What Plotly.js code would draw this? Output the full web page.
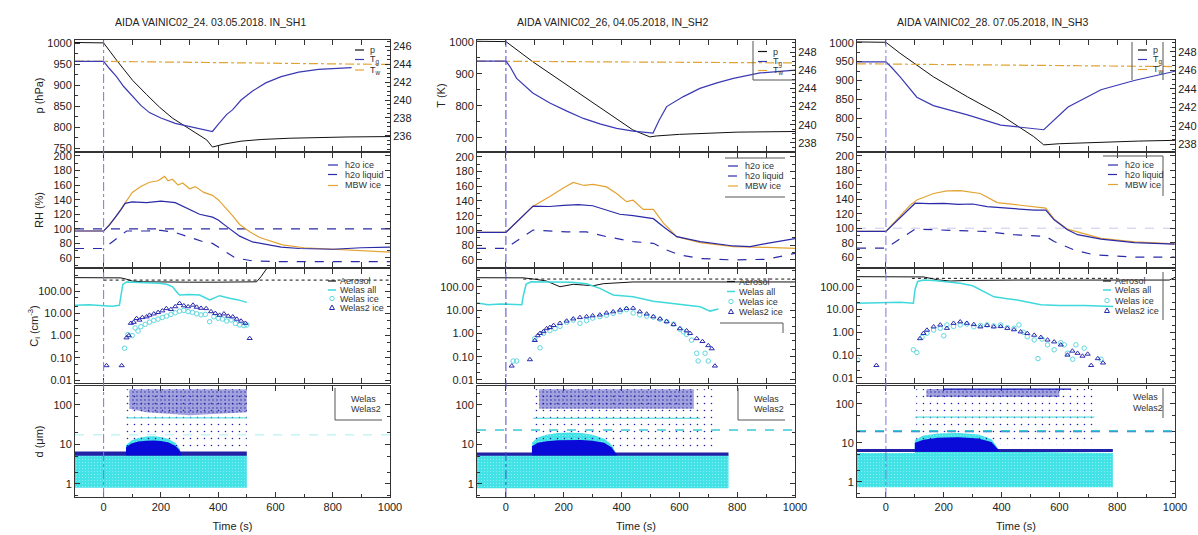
<!DOCTYPE html>
<html><head><meta charset="utf-8">
<script src="https://cdn.plot.ly/plotly-3.0.1.min.js"></script>
<style>html,body{margin:0;padding:0;background:#fff}#chart{width:1198px;height:535px}</style>
</head><body><div id="chart"></div>
<script>
// ---------------- DATA ----------------
var titles = ["AIDA VAINIC02_24. 03.05.2018. IN_SH1", "AIDA VAINIC02_26, 04.05.2018, IN_SH2", "AIDA VAINIC02_28. 07.05.2018, IN_SH3"];
var xTicks = [0, 200, 400, 600, 800, 1000];
var crTickVals = [0.01, 0.1, 1, 10, 100];
var crTickText = ["0.01", "0.10", "1.00", "10.00", "100.00"];
var dTickVals = [1, 10, 100];
var dTickText = ["1", "10", "100"];

// ---- Column 1 (SH1) ----
var c1PT = [-100, 0, 45, 101, 150, 195, 240, 290, 330, 360, 380, 420, 480, 550, 650, 750, 850, 1000];
var c1P  = [1002, 1001, 960, 912, 878, 848, 822, 800, 783, 770, 753, 760, 767, 771, 774, 776, 777, 778];
var c1TgT = [-100, 0, 20, 45, 70, 101, 130, 160, 200, 250, 290, 330, 360, 380, 400, 430, 450, 480, 520, 566, 620, 681, 750, 866];
var c1Tg  = [244.3, 244.3, 243.5, 242.6, 241.5, 240.4, 239.4, 238.6, 238.0, 237.4, 237.1, 236.8, 236.6, 236.5, 237.3, 238.4, 238.9, 240.0, 241.0, 241.9, 242.6, 243.1, 243.4, 243.6];
var c1TwT = [-100, 300, 600, 1000];
var c1Tw  = [244.33, 244.22, 244.1, 243.95];
var c1IceT = [-100, 0, 20, 40, 60, 75, 100, 150, 200, 250, 290, 335, 380, 400, 430, 475, 520, 570, 620, 684, 800, 900, 1000];
var c1Ice  = [97, 97, 105, 115, 126, 135, 137, 136, 138, 136, 128, 120, 116, 112, 103, 90, 82, 78, 75, 73, 72, 74, 75];
var c1LiqT = [-100, 0, 40, 80, 150, 200, 250, 300, 350, 380, 420, 460, 520, 600, 800, 1000];
var c1Liq  = [73, 73, 85, 97, 97, 98, 95, 88, 82, 80, 70, 60, 56, 55, 55, 55];
var c1MbwT = [-100, 0, 40, 75, 100, 130, 160, 190, 213, 225, 240, 260, 276, 300, 320, 350, 380, 400, 429, 450, 475, 510, 545, 590, 625, 700, 800, 900, 1000];
var c1Mbw  = [97, 97, 115, 135, 150, 158, 164, 166, 172, 166, 168, 160, 163, 155, 158, 150, 146, 140, 128, 118, 106, 96, 88, 82, 78, 74, 72, 70, 68];
var c1RefT = [-100, 1000];
var c1Ref  = [100, 100];
var c1AerT = [-100, 0, 60, 80, 100, 140, 200, 300, 400, 500, 534, 550, 569];
var c1Aer  = [400, 400, 390, 340, 280, 260, 250, 250, 250, 250, 260, 450, 1000];
var c1AerDotT = [0, 1000];
var c1AerDot  = [310, 310];
var c1AllT = [-100, -50, 0, 30, 55, 60, 67, 80, 120, 160, 195, 220, 241, 255, 265, 300, 335, 370, 405, 440, 470, 500];
var c1All  = [23, 24, 22, 21, 23, 60, 200, 255, 245, 235, 222, 200, 155, 90, 66, 70, 66, 40, 62, 47, 40, 31];
var c1CircT = [73, 85, 100, 110, 120, 130, 145, 160, 175, 190, 205, 220, 235, 250, 265, 280, 295, 310, 325, 340, 355, 370, 385, 400, 415, 430, 445, 460, 475, 490, 500];
var c1Circ  = [0.27, 1.1, 1.0, 2.2, 1.6, 2.5, 3.2, 4.0, 4.8, 5.5, 6.5, 7.5, 9.0, 10.5, 12.5, 13.5, 12.0, 11.0, 9.5, 8.5, 9.0, 4.2, 7.0, 6.0, 5.5, 4.5, 5.0, 3.5, 3.0, 2.8, 3.0];
var c1TriT = [10, 63, 80, 88, 95, 105, 115, 125, 135, 150, 160, 175, 190, 205, 219, 235, 250, 265, 280, 295, 312, 325, 340, 358, 375, 390, 405, 420, 435, 451, 465, 480, 495, 510];
var c1Tri  = [0.045, 0.045, 0.8, 1.0, 3.6, 4.0, 5.9, 5.0, 6.5, 7.0, 8.3, 9.5, 11.0, 13.0, 16.5, 15.0, 20.0, 28.0, 22.0, 20.0, 23.5, 19.0, 17.0, 16.5, 12.0, 10.0, 8.3, 9.5, 7.5, 7.0, 5.5, 4.5, 3.6, 0.75];
var c1CyanT = [-100, 78, 78, 95, 120, 150, 175, 200, 225, 250, 265, 272, 500, 500, -100];
var c1CyanD = [5.3, 5.3, 9.5, 12.5, 14.5, 15.8, 16.2, 15.5, 14, 11, 8, 5.3, 5.3, 0.8, 0.8];
var c1DomeT = [78, 78, 95, 120, 150, 175, 200, 225, 250, 265, 272];
var c1DomeD = [5.3, 8.5, 10.5, 11.8, 12.4, 12.6, 12.2, 11.3, 9.3, 7.2, 5.3];
var c1BandT = [-100, 500, 500, -100];
var c1BandD = [5.2, 5.2, 6.6, 6.6];
var c1CloudT = [78, 500, 500, 78];
var c1CloudD = [7, 7, 250, 250];
var c1DenseT = [90, 150, 300, 500, 500, 90];
var c1DenseD = [80, 65, 55, 65, 250, 250];
var c1LineT = [80, 500];
var c1LineD = [47, 47];
var c1DashT = [-100, 1000];
var c1DashD = [17.5, 17.5];

// ---- Column 2 (SH2) ----
var c2PT = [-100, 0, 93, 211, 325, 439, 498, 520, 600, 700, 800, 1000];
var c2P  = [1002, 1001, 938, 866, 797, 725, 703, 706, 711, 715, 718, 720];
var c2TgT = [-100, 0, 14, 37, 93, 152, 211, 268, 325, 383, 440, 509, 530, 556, 614, 671, 730, 787, 879, 1000];
var c2Tg  = [247.0, 247.0, 246.4, 245.1, 243.5, 242.4, 241.5, 240.7, 240.1, 239.6, 239.3, 239.1, 240.5, 242.0, 243.1, 244.0, 244.6, 245.1, 245.7, 246.0];
var c2TwT = [-100, 400, 1000];
var c2Tw  = [247.0, 246.9, 246.8];
var c2IceT = [-100, 0, 94, 150, 200, 250, 300, 313, 348, 394, 440, 510, 545, 591, 672, 787, 845, 903, 1000];
var c2Ice  = [97.5, 97.5, 133, 132.5, 134, 135, 133.5, 132, 128, 122, 120, 116, 105, 91.6, 85, 79, 78, 82.6, 89];
var c2LiqT = [-100, 0, 94, 210, 279, 348, 440, 510, 556, 602, 672, 787, 903, 1000];
var c2Liq  = [75.8, 75.8, 100.6, 98, 98, 91.6, 85, 82.6, 73.5, 66.7, 62, 60, 61, 69];
var c2MbwT = [-100, 0, 94, 152, 200, 233, 270, 302, 348, 383, 417, 440, 475, 510, 545, 591, 672, 787, 903, 1000];
var c2Mbw  = [97.5, 97.5, 133, 146, 158, 165, 161, 162.5, 159, 150, 139, 141, 128.6, 128.6, 110, 91.6, 83.5, 78, 77, 75.8];
var c2AerT = [-100, 0, 60, 100, 140, 187, 210, 233, 270, 302, 337, 400, 440, 1000];
var c2Aer  = [243, 243, 240, 210, 176, 100, 115, 127, 118, 110, 135, 150, 160, 160];
var c2AerDotT = [60, 1000];
var c2AerDot  = [213, 213];
var c2AllT = [-100, -60, -20, 20, 55, 60, 70, 87, 150, 226, 279, 325, 371, 440, 510, 591, 672, 706, 735];
var c2All  = [20, 17, 18, 17.6, 17, 40, 130, 164, 160, 155, 135, 85, 44, 37, 24, 17.6, 13.7, 9, 11];
var c2CircT = [25, 37, 100, 118, 130, 152, 170, 187, 210, 233, 256, 279, 300, 325, 348, 371, 395, 417, 440, 463, 487, 510, 533, 556, 580, 602, 614, 625, 642, 660, 665, 689, 700];
var c2Circ  = [0.065, 0.065, 0.6, 0.24, 1.0, 1.3, 1.6, 2.0, 3.0, 3.7, 2.7, 3.5, 4.5, 5.2, 6.0, 7.2, 8.5, 10.5, 7.5, 6.2, 5.5, 5.0, 4.0, 3.2, 2.5, 1.5, 1.17, 0.9, 0.51, 0.14, 0.065, 0.14, 0.065];
var c2TriT = [20, 83, 100, 110, 118, 130, 141, 152, 165, 187, 210, 233, 256, 279, 300, 325, 348, 371, 395, 417, 440, 463, 487, 510, 533, 556, 580, 602, 625, 637, 660, 680, 700, 712, 723];
var c2Tri  = [0.04, 0.075, 0.5, 0.8, 1.0, 1.2, 1.6, 1.8, 2.2, 2.7, 3.4, 4.2, 4.8, 5.2, 5.7, 6.2, 7.5, 8.5, 10, 11.8, 12, 8.5, 6.8, 5.2, 4.2, 3.2, 2.4, 1.6, 1.3, 1.0, 0.6, 0.45, 0.3, 0.22, 0.04];
var c2CyanT = [-100, 90, 90, 110, 140, 180, 220, 260, 300, 340, 365, 385, 770, 770, -100];
var c2CyanD = [5.3, 5.3, 11, 15, 17.5, 19.5, 20, 19.5, 17.5, 14, 10, 5.3, 5.3, 0.78, 0.78];
var c2DomeT = [90, 90, 110, 140, 180, 220, 260, 300, 340, 365, 385];
var c2DomeD = [5.3, 9, 11, 12, 12.8, 13, 13, 12.5, 11, 8.5, 5.3];
var c2BandT = [-100, 770, 770, -100];
var c2BandD = [5.2, 5.2, 6.3, 6.3];
var c2CloudT = [90, 720, 720, 90];
var c2CloudD = [7, 7, 250, 250];
var c2DenseT = [115, 650, 650, 115];
var c2DenseD = [80, 80, 250, 250];
var c2LineT = [94, 672];
var c2LineD = [46, 46];
var c2DashT = [-100, 1000];
var c2DashD = [23.4, 23.4];

// ---- Column 3 (SH3) ----
var c3PT = [-100, 0, 49, 164, 282, 397, 511, 546, 600, 700, 873, 1000];
var c3P  = [1002, 1001, 972, 910, 857, 809, 752, 730, 733, 736, 740, 742];
var c3TgT = [-100, 0, 20, 49, 107, 164, 282, 397, 546, 630, 744, 859, 1000];
var c3Tg  = [246.9, 246.9, 246.3, 245.3, 243.1, 242.2, 241.2, 240.1, 239.6, 242.05, 243.9, 244.9, 245.9];
var c3TwT = [-100, 400, 1000];
var c3Tw  = [246.7, 246.6, 246.4];
var c3IceT = [-100, 0, 101, 150, 200, 250, 300, 350, 420, 513, 553, 582, 628, 663, 744, 860, 999];
var c3Ice  = [95.5, 95.5, 134.6, 134, 134.5, 133, 133.5, 130, 127.7, 125, 125, 111.6, 97.8, 91, 85, 80, 78];
var c3LiqT = [-100, 0, 101, 223, 339, 443, 553, 582, 651, 721, 860, 999];
var c3Liq  = [72.4, 72.4, 98.7, 97, 95.5, 91, 88.6, 81.7, 70, 63, 60, 60];
var c3MbwT = [-100, 0, 84, 107, 165, 211, 257, 300, 327, 385, 454, 513, 553, 582, 628, 744, 860, 999];
var c3Mbw  = [95.5, 95.5, 132, 139, 148, 151.6, 152, 150, 148, 135.5, 132, 130, 127.7, 112.5, 98.7, 86, 81, 78.4];
var c3RefT = [-100, 1000];
var c3Ref  = [100, 100];
var c3AerT = [-100, 0, 130, 180, 223, 280, 350, 450, 600, 800, 980, 1000];
var c3Aer  = [277, 277, 270, 200, 178, 190, 197, 197, 197, 197, 197, 260];
var c3AerDotT = [90, 800];
var c3AerDot  = [234, 234];
var c3AllT = [-100, -50, 0, 50, 95, 101, 110, 130, 165, 210, 257, 300, 327, 374, 420, 454, 536, 600, 687, 786];
var c3All  = [18.7, 19.5, 20, 21, 19, 80, 170, 196, 190, 160, 141, 110, 72, 36, 30, 26, 16, 15, 15, 13.5];
var c3CircT = [-97, 95, 107, 125, 142, 165, 188, 200, 211, 234, 257, 280, 304, 327, 350, 373, 397, 420, 443, 460, 475, 489, 513, 526, 540, 559, 582, 605, 617, 628, 646, 657, 686, 744];
var c3Circ  = [0.06, 0.17, 0.13, 0.6, 0.9, 1.25, 1.5, 0.7, 2.1, 1.8, 2.1, 2.3, 1.74, 2.0, 2.1, 1.9, 2.1, 1.6, 1.5, 2.1, 1.0, 0.63, 0.46, 0.07, 0.5, 0.28, 0.17, 0.35, 0.28, 0.12, 0.065, 0.28, 0.2, 0.065];
var c3TriT = [-33, 118, 130, 142, 165, 188, 211, 234, 257, 280, 304, 327, 350, 373, 397, 420, 443, 466, 489, 513, 536, 559, 582, 605, 628, 645, 663, 680, 698, 710, 733, 751];
var c3Tri  = [0.035, 0.53, 0.9, 1.25, 1.74, 2.1, 1.5, 2.5, 2.9, 2.5, 2.2, 1.74, 2.0, 1.74, 1.8, 1.5, 1.3, 1.05, 0.9, 0.75, 0.6, 0.46, 0.38, 0.28, 0.1, 0.15, 0.12, 0.09, 0.11, 0.035, 0.07, 0.045];
var c3CyanT = [-100, 100, 100, 130, 180, 250, 320, 365, 395, 785, 785, -100];
var c3CyanD = [5.5, 5.5, 12, 15.5, 17.5, 18, 16.5, 12.5, 6, 5.5, 0.72, 0.72];
var c3DomeT = [100, 100, 130, 180, 250, 320, 365, 395];
var c3DomeD = [6, 10, 12, 13.5, 14, 13, 10.5, 6];
var c3BandT = [-100, 785, 785, -100];
var c3BandD = [5.8, 5.8, 7.0, 7.0];
var c3CloudT = [105, 720, 720, 105];
var c3CloudD = [9, 9, 240, 240];
var c3DenseT = [140, 600, 600, 140];
var c3DenseD = [150, 150, 240, 240];
var c3TopT = [200, 640];
var c3TopD = [240, 240];
var c3LineT = [101, 721];
var c3LineD = [46, 46];
var c3DashT = [-100, 1000];
var c3DashCyan = [20.5, 20.5];
var c3DashBlue = [19.5, 19.5];

// ---------------- HELPERS ----------------
var W = 1198, H = 535;
var FONT = "Liberation Sans, Arial, sans-serif";
var BLACK = "#111", BLUE = "#3a3ab4", ICE = "#2a2aa8", ORANGE = "#e3a332", CYAN = "#3fd9dc", DBLUE = "#1414b8";
function px(x) { return x / W; }
function py(y) { return 1 - y / H; }
function xa(c) { return c === 1 ? "x" : "x" + c; }
function ya(c, r) { var i = (c - 1) * 4 + r; return i === 1 ? "y" : "y" + i; }
function ln(x, y, c, r, color, width, dash) {
  return {type: "scatter", mode: "lines", x: x, y: y, xaxis: xa(c), yaxis: r === 0 ? "y" + (12 + c) : ya(c, r),
    line: {color: color, width: width, dash: dash || "solid"}, showlegend: false, hoverinfo: "skip"};
}
function mk(x, y, c, r, color, symbol) {
  return {type: "scatter", mode: "markers", x: x, y: y, xaxis: xa(c), yaxis: ya(c, r),
    marker: {color: color, symbol: symbol, size: 4.5, line: {color: color, width: 1}}, showlegend: false, hoverinfo: "skip"};
}
function poly(x, y, c, r, fill, pattern) {
  var t = {type: "scatter", mode: "lines", x: x, y: y, xaxis: xa(c), yaxis: ya(c, r), fill: "toself",
    fillcolor: fill, line: {width: 0, color: "rgba(0,0,0,0)"}, showlegend: false, hoverinfo: "skip"};
  if (pattern) t.fillpattern = pattern;
  return t;
}

var traces = [];
var cols = [
  {PT: c1PT, P: c1P, TgT: c1TgT, Tg: c1Tg, TwT: c1TwT, Tw: c1Tw, IceT: c1IceT, Ice: c1Ice, LiqT: c1LiqT, Liq: c1Liq, MbwT: c1MbwT, Mbw: c1Mbw,
   AerT: c1AerT, Aer: c1Aer, AerDotT: c1AerDotT, AerDot: c1AerDot, AllT: c1AllT, All: c1All, CircT: c1CircT, Circ: c1Circ, TriT: c1TriT, Tri: c1Tri,
   CyanT: c1CyanT, CyanD: c1CyanD, DomeT: c1DomeT, DomeD: c1DomeD, BandT: c1BandT, BandD: c1BandD, CloudT: c1CloudT, CloudD: c1CloudD,
   DenseT: c1DenseT, DenseD: c1DenseD, LineT: c1LineT, LineD: c1LineD},
  {PT: c2PT, P: c2P, TgT: c2TgT, Tg: c2Tg, TwT: c2TwT, Tw: c2Tw, IceT: c2IceT, Ice: c2Ice, LiqT: c2LiqT, Liq: c2Liq, MbwT: c2MbwT, Mbw: c2Mbw,
   AerT: c2AerT, Aer: c2Aer, AerDotT: c2AerDotT, AerDot: c2AerDot, AllT: c2AllT, All: c2All, CircT: c2CircT, Circ: c2Circ, TriT: c2TriT, Tri: c2Tri,
   CyanT: c2CyanT, CyanD: c2CyanD, DomeT: c2DomeT, DomeD: c2DomeD, BandT: c2BandT, BandD: c2BandD, CloudT: c2CloudT, CloudD: c2CloudD,
   DenseT: c2DenseT, DenseD: c2DenseD, LineT: c2LineT, LineD: c2LineD},
  {PT: c3PT, P: c3P, TgT: c3TgT, Tg: c3Tg, TwT: c3TwT, Tw: c3Tw, IceT: c3IceT, Ice: c3Ice, LiqT: c3LiqT, Liq: c3Liq, MbwT: c3MbwT, Mbw: c3Mbw,
   AerT: c3AerT, Aer: c3Aer, AerDotT: c3AerDotT, AerDot: c3AerDot, AllT: c3AllT, All: c3All, CircT: c3CircT, Circ: c3Circ, TriT: c3TriT, Tri: c3Tri,
   CyanT: c3CyanT, CyanD: c3CyanD, DomeT: c3DomeT, DomeD: c3DomeD, BandT: c3BandT, BandD: c3BandD, CloudT: c3CloudT, CloudD: c3CloudD,
   DenseT: c3DenseT, DenseD: c3DenseD, LineT: c3LineT, LineD: c3LineD}
];

cols.forEach(function (d, i) {
  var c = i + 1;
  // row 1
  traces.push(ln(d.TwT, d.Tw, c, 0, ORANGE, 1.2, "dashdot"));
  traces.push(ln(d.TgT, d.Tg, c, 0, BLUE, 1.2));
  traces.push(ln(d.PT, d.P, c, 1, BLACK, 1));
  // row 2
  if (c === 1) traces.push(ln(c1RefT, c1Ref, 1, 2, ICE, 1.2, "dash"));
  if (c === 3) traces.push(ln(c3RefT, c3Ref, 3, 2, "#c8c8ee", 1, "dash"));
  traces.push(ln(d.LiqT, d.Liq, c, 2, ICE, 1.2, "dash"));
  traces.push(ln(d.MbwT, d.Mbw, c, 2, ORANGE, 1.2));
  traces.push(ln(d.IceT, d.Ice, c, 2, ICE, 1.2));
  // row 3
  traces.push(ln(d.AerDotT, d.AerDot, c, 3, BLACK, 1, "dot"));
  traces.push(ln(d.AerT, d.Aer, c, 3, BLACK, 1));
  traces.push(ln(d.AllT, d.All, c, 3, CYAN, 1.5));
  traces.push(mk(d.CircT, d.Circ, c, 3, "#5fd8e0", "circle-open"));
  traces.push(mk(d.TriT, d.Tri, c, 3, "#2a2ab0", "triangle-up-open"));
  // row 4
  traces.push(poly(d.CyanT, d.CyanD, c, 4, "#40e3e6",
    {shape: ".", size: 3, solidity: 0.08, fgcolor: "#c4f6f6", bgcolor: "#42e2e6", fillmode: "replace"}));
  traces.push(poly(d.CloudT, d.CloudD, c, 4, "rgba(0,0,0,0)",
    {shape: ".", size: 7, solidity: 0.04, fgcolor: "#2020b0", bgcolor: "rgba(0,0,0,0)", fillmode: "replace"}));
  traces.push(poly(d.DenseT, d.DenseD, c, 4, "rgba(30,30,175,0.42)",
    {shape: ".", size: 4, solidity: 0.16, fgcolor: "#14149c", fillmode: "overlay"}));
  traces.push(poly(d.BandT, d.BandD, c, 4, "#2222a8"));
  traces.push(poly(d.DomeT, d.DomeD, c, 4, "#0a0ad8"));
  traces.push(ln(d.LineT, d.LineD, c, 4, CYAN, 1));
});
traces.push(ln(c1DashT, c1DashD, 1, 4, "#a8eef0", 1, "dash"));
traces.push(ln(c2DashT, c2DashD, 2, 4, "#3cc9d6", 1.5, "dash"));
traces.push(ln(c3DashT, c3DashBlue, 3, 4, "#3a6fc8", 1.5, "dash"));
traces.push(ln(c3DashT, c3DashCyan, 3, 4, "#3cc9d6", 1.5, "dash"));
traces.push(ln(c3TopT, c3TopD, 3, 4, DBLUE, 1.2));

// ---------------- LAYOUT ----------------
var colX = [[75, 390], [477, 795], [857, 1175]];
var rowY = [[40, 151], [153, 267], [269, 383], [386, 497]];
var pRange = [[743.6, 1007.9], [659, 1006], [713.8, 1007.1]];
var pTicks = [[750, 800, 850, 900, 950, 1000], [700, 800, 900, 1000], [750, 800, 850, 900, 950, 1000]];
var tRange = [[234.33, 246.67], [237.12, 249.32], [237.31, 249.26]];
var tTicks = [[236, 238, 240, 242, 244, 246], [238, 240, 242, 244, 246, 248], [238, 240, 242, 244, 246, 248]];
var rhRange = [[47.6, 204.1], [50.5, 205], [46.3, 204.1]];
var crRange = [[-2.13, 2.99], [-2.13, 2.76], [-2.23, 2.78]];
var dRange = [[-0.33, 2.48], [-0.33, 2.48], [-0.39, 2.46]];

var tickFont = {family: FONT, size: 11, color: "#222"};
var titleFont = {family: FONT, size: 11, color: "#222"};
var layout = {
  width: W, height: H, margin: {l: 0, r: 0, t: 0, b: 0}, paper_bgcolor: "#fff", plot_bgcolor: "#fff",
  showlegend: false, font: {family: FONT, size: 11, color: "#222"}, shapes: [], annotations: []
};
function baseAxis() {
  return {showgrid: false, zeroline: false, showline: true, linecolor: "#333", linewidth: 1,
    ticks: "inside", ticklen: 5, tickcolor: "#333", tickfont: tickFont, fixedrange: true};
}
for (var c = 1; c <= 3; c++) {
  var xk = c === 1 ? "xaxis" : "xaxis" + c;
  var xaxis = baseAxis();
  xaxis.domain = [px(colX[c - 1][0]), px(colX[c - 1][1])];
  xaxis.range = [-100, 1000];
  xaxis.anchor = ya(c, 4);
  xaxis.mirror = "allticks";
  xaxis.tickvals = xTicks;
  xaxis.ticktext = xTicks.map(String);
  xaxis.minor = {ticks: "inside", ticklen: 3, dtick: 100, tickcolor: "#333"};
  xaxis.title = {text: "Time (s)", font: titleFont, standoff: 10};
  layout[xk] = xaxis;
  for (var r = 1; r <= 4; r++) {
    var idx = (c - 1) * 4 + r;
    var yk = idx === 1 ? "yaxis" : "yaxis" + idx;
    var y = baseAxis();
    y.domain = [py(rowY[r - 1][1]), py(rowY[r - 1][0])];
    y.anchor = xa(c);
    y.mirror = r === 1 ? false : "allticks";
    if (r === 1) {
      y.range = pRange[c - 1]; y.tickvals = pTicks[c - 1]; y.ticktext = pTicks[c - 1].map(String);
      y.minor = {ticks: "inside", ticklen: 3, dtick: c === 2 ? 50 : 25, tickcolor: "#333"};
      if (c === 1) y.title = {text: "p (hPa)", font: titleFont};
      if (c === 2) y.title = {text: "T (K)", font: titleFont};
    } else if (r === 2) {
      y.range = rhRange[c - 1]; y.tickvals = [60, 80, 100, 120, 140, 160, 180, 200];
      y.ticktext = y.tickvals.map(String);
      y.minor = {ticks: "inside", ticklen: 3, dtick: 10, tickcolor: "#333"};
      if (c === 1) y.title = {text: "RH (%)", font: titleFont};
    } else if (r === 3) {
      y.type = "log"; y.range = crRange[c - 1]; y.tickvals = crTickVals; y.ticktext = crTickText;
      y.minor = {ticks: "inside", ticklen: 3, dtick: "D2", tickcolor: "#333"};
      if (c === 1) y.title = {text: "C<sub>i</sub> (cm<sup>-3</sup>)", font: titleFont};
    } else {
      y.type = "log"; y.range = dRange[c - 1]; y.tickvals = dTickVals; y.ticktext = dTickText;
      y.minor = {ticks: "inside", ticklen: 3, dtick: "D2", tickcolor: "#333"};
      if (c === 1) y.title = {text: "d (μm)", font: titleFont};
    }
    layout[yk] = y;
  }
  var sk = "yaxis" + (12 + c);
  var s = baseAxis();
  s.overlaying = ya(c, 1); s.side = "right"; s.anchor = xa(c);
  s.range = tRange[c - 1]; s.tickvals = tTicks[c - 1]; s.ticktext = tTicks[c - 1].map(String);
  s.minor = {ticks: "inside", ticklen: 3, dtick: 0.5, tickcolor: "#333"};
  layout[sk] = s;
  // t = 0 marker line
  layout.shapes.push({type: "line", xref: xa(c), yref: "paper", x0: 0, x1: 0, y0: py(497), y1: py(40),
    line: {color: c === 2 ? "#4a4ac8" : "#7a7ad8", width: 1, dash: "dashdot"}});
  // column title
  layout.annotations.push({xref: "paper", yref: "paper", x: px([210, 612, 992][c - 1]), y: py(22),
    text: titles[c - 1], showarrow: false, xanchor: "center", yanchor: "middle", font: {family: FONT, size: 10.5, color: "#222"}});
}

// ---------------- LEGENDS (drawn in paper space) ----------------
function legLine(x0, x1, y, color, dash, width) {
  layout.shapes.push({type: "line", xref: "paper", yref: "paper", x0: px(x0), x1: px(x1), y0: py(y), y1: py(y),
    line: {color: color, width: width || 1.2, dash: dash || "solid"}});
}
function legText(x, y, t) {
  layout.annotations.push({xref: "paper", yref: "paper", x: px(x), y: py(y), text: t, showarrow: false,
    xanchor: "left", yanchor: "middle", font: {family: FONT, size: 9, color: "#333"}});
}
function legCircle(x, y, color) {
  layout.shapes.push({type: "circle", xref: "paper", yref: "paper", x0: px(x - 2.2), x1: px(x + 2.2), y0: py(y + 2.2), y1: py(y - 2.2),
    line: {color: color, width: 1}});
}
function legTri(x, y, color) {
  layout.shapes.push({type: "path", xref: "paper", yref: "paper",
    path: "M" + px(x - 2.5) + "," + py(y + 2) + " L" + px(x + 2.5) + "," + py(y + 2) + " L" + px(x) + "," + py(y - 2.5) + " Z",
    line: {color: color, width: 1}});
}
function legVLine(x, y0, y1) {
  layout.shapes.push({type: "line", xref: "paper", yref: "paper", x0: px(x), x1: px(x), y0: py(y0), y1: py(y1), line: {color: "#555", width: 1}});
}
function legHLine(x0, x1, y) {
  layout.shapes.push({type: "line", xref: "paper", yref: "paper", x0: px(x0), x1: px(x1), y0: py(y), y1: py(y), line: {color: "#555", width: 1}});
}
function row1Legend(x, ys) {
  legLine(x, x + 9, ys[0], BLACK); legText(x + 13, ys[0], "p");
  legLine(x, x + 9, ys[1], BLUE); legText(x + 13, ys[1], "T<sub>g</sub>");
  legLine(x, x + 9, ys[2], ORANGE, "dash"); legText(x + 13, ys[2], "T<sub>w</sub>");
}
function row2Legend(x, ys) {
  legLine(x, x + 10, ys[0], ICE); legText(x + 15, ys[0], "h2o ice");
  legLine(x, x + 10, ys[1], ICE, "dash"); legText(x + 15, ys[1], "h2o liquid");
  legLine(x, x + 10, ys[2], ORANGE); legText(x + 15, ys[2], "MBW ice");
}
function row3Legend(x, ys) {
  legLine(x, x + 8, ys[0], BLACK); legText(x + 10, ys[0], "Aerosol");
  legLine(x, x + 8, ys[1], CYAN, "solid", 1.5); legText(x + 10, ys[1], "Welas all");
  legCircle(x + 4, ys[2], "#5fd8e0"); legText(x + 10, ys[2], "Welas ice");
  legTri(x + 4, ys[3], "#2a2ab0"); legText(x + 10, ys[3], "Welas2 ice");
}
function row4Legend(x, ys) {
  legText(x, ys[0], "Welas"); legText(x, ys[1], "Welas2");
}
// column 1
row1Legend(355, [50, 59.5, 70]);
row2Legend(328, [165, 174.5, 185.5]);
row3Legend(328, [281, 290, 298.5, 307.5]);
row4Legend(349, [399, 408.5]);
legVLine(335, 388, 420); legHLine(335, 382, 420);
// column 2
legVLine(753, 41, 80); legHLine(753, 795, 80);
row1Legend(758, [51.5, 61.5, 70.5]);
legHLine(725, 785, 158); legHLine(725, 785, 197);
row2Legend(728, [166, 176, 186]);
row3Legend(727, [281.5, 291.5, 301.5, 311.5]);
legHLine(720, 783, 323); legVLine(783, 323, 333);
legVLine(738, 388, 420); legHLine(738, 785, 420);
row4Legend(752, [399, 408.5]);
// column 3
legVLine(1132, 42, 80); legVLine(1163, 42, 80);
row1Legend(1138, [50, 59.5, 69.5]);
legHLine(1103, 1163, 156); legVLine(1163, 156, 196);
row2Legend(1108, [165, 174.5, 184.5]);
legVLine(1163, 272, 320);
row3Legend(1103, [281, 290, 300.5, 310.5]);
legVLine(1163, 388, 418);
row4Legend(1131, [397, 408]);

Plotly.newPlot("chart", traces, layout, {displayModeBar: false, staticPlot: true});
</script></body></html>
